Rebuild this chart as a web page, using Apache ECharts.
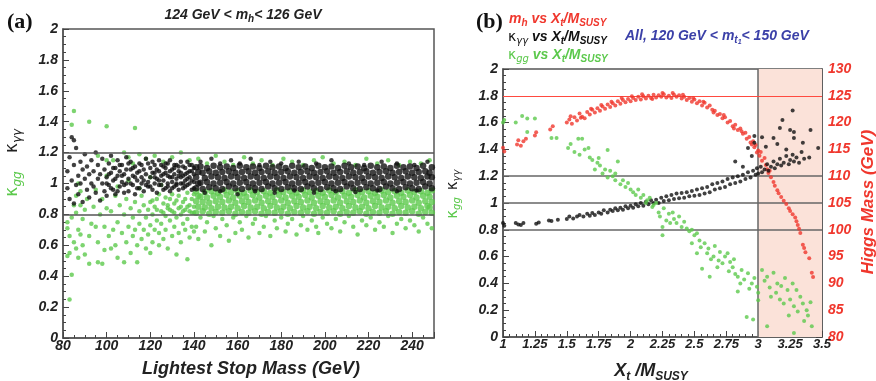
<!DOCTYPE html>
<html><head><meta charset="utf-8">
<script src="https://cdn.jsdelivr.net/npm/echarts@6/dist/echarts.min.js"></script>
<style>html,body{margin:0;padding:0;background:#fff}#c{width:876px;height:381px}</style>
</head><body><div id="c"></div>
<script>
// ---------- Panel (a): kappa vs lightest stop mass ----------
const stopTicks = [80,100,120,140,160,180,200,220,240];
const kappaTicks = [0,0.2,0.4,0.6,0.8,1,1.2,1.4,1.6,1.8,2];
// kappa_gg (green), sparse part
const ggSparseA = [
[82,0.71],[82,0.75],[82,0.53],[83,0.25],[83,0.55],[83,0.66],[84,0.41],[84,0.78],[84,1.38],[85,1.47],[85,0.62],[85,0.86],[86,0.58],[86,0.81],[86,0.92],[87,0.7],[87,1.0],[87,0.52],[88,0.86],[88,0.95],[88,0.67],[89,0.6],[89,0.77],[90,0.54],[90,0.83],[91,0.9],[92,1.4],[92,0.66],[92,0.48],[93,0.74],[94,0.85],[95,0.72],[95,0.96],[96,0.62],[96,0.49],[96,1.18],[97,0.8],[98,0.48],[98,0.9],[99,0.57],[99,0.72],[100,0.84],[100,1.15],[100,1.37],[100,1.05],
[101,0.66],[102,0.82],[102,0.58],[103,0.7],[103,1.15],[104,0.6],[104,0.92],[105,0.75],[105,0.52],[105,0.98],[106,0.86],[107,0.68],[108,0.49],[108,0.8],[108,1.2],[109,0.62],[109,0.9],[110,0.72],[110,1.17],[110,1.02],[111,0.84],[111,0.55],[112,0.66],[112,0.78],[112,1.13],[113,0.7],[113,0.88],[113,1.36],[114,0.49],[114,0.6],[115,0.82],[115,0.74],[115,1.19],[115,0.97],[116,0.92],[116,0.64],[117,0.7],[117,0.86],[118,0.58],[118,0.78],[118,1.16],[119,0.83],[119,0.67],[120,0.55],[120,0.73],[120,0.88],[120,1.04],[121,0.62],[121,0.8],[122,0.7],[122,0.85],[122,1.18],[123,0.76],[123,0.9],[124,0.6],[124,0.68],[125,0.82],[125,0.74],[125,0.99],[126,0.87],[126,0.64],[126,1.14],[127,0.79],[127,0.7],[128,0.84],[128,0.58],[129,0.76],[129,0.9],[130,0.66],[130,0.82],[130,1.17],[131,0.72],[131,0.87],[132,0.54],[132,0.78],[133,0.68],[133,0.84],[134,0.62],[134,0.8],[134,1.2],[135,0.74],[135,0.88],[136,0.7],[136,0.83],[137,0.51],[137,0.77],[138,0.65],[138,0.86],[138,1.15],[139,0.72],[139,0.81],[140,0.69],[140,0.85],
[121,0.89],[123,0.83],[124,0.93],[126,0.81],[127,0.91],[128,0.86],[129,0.83],[130,0.93],[131,0.81],[132,0.89],[133,0.92],[134,0.85],[135,0.82],[136,0.9],[137,0.94],[137,0.85],[138,0.82],[139,0.9],[140,0.93],[140,0.81],
[141,0.72],[142,0.64],[143,0.78],[145,0.69],[146,0.75],[148,0.6],[149,0.79],[150,0.71],[152,0.66],[153,0.77],[155,0.73],[156,0.63],[158,0.78],[159,0.68],[161,0.75],[162,0.7],[164,0.79],[165,0.65],[167,0.74],[168,0.77],[170,0.68],[172,0.72],[173,0.79],[175,0.66],[177,0.76],[178,0.71],[180,0.78],[182,0.69],[183,0.74],[185,0.77],[187,0.67],[189,0.73],[190,0.79],[192,0.7],[194,0.76],[196,0.72],[197,0.68],[199,0.78],[201,0.74],[203,0.71],[205,0.77],[207,0.69],[209,0.75],[211,0.79],[213,0.72],[215,0.67],[217,0.76],[219,0.73],[221,0.78],[223,0.7],[225,0.75],[227,0.72],[229,0.79],[231,0.68],[233,0.74],[235,0.77],[237,0.71],[239,0.76],[241,0.73],[243,0.69],[245,0.78],[247,0.74],[249,0.71],
[142,1.16],[146,1.13],[150,1.18],[154,1.14],[158,1.12],[163,1.17],[167,1.13],[171,1.15],[176,1.12],[181,1.16],[185,1.14],[190,1.12],[195,1.15],[199,1.17],[204,1.13],[209,1.14],[214,1.12],[219,1.16],[224,1.13],[229,1.15],[234,1.12],[239,1.14],[244,1.13],[248,1.15]
];
// kappa_gg (green), dense band
const ggBandA = [
[141,0.81],[142,0.85],[141,0.885],[142,0.92],[141,0.95],
[144,0.82],[145,0.845],[144,0.88],[143,0.915],[145,0.945],
[147,0.805],[148,0.84],[147,0.875],[146,0.91],[148,0.95],
[150,0.815],[151,0.85],[150,0.885],[149,0.92],[151,0.94],
[153,0.81],[154,0.845],[153,0.88],[152,0.915],[154,0.955],
[156,0.82],[157,0.85],[156,0.89],[155,0.925],[157,0.945],
[159,0.805],[160,0.84],[159,0.875],[158,0.91],[160,0.95],
[162,0.815],[163,0.855],[162,0.885],[161,0.92],[163,0.94],
[165,0.81],[166,0.845],[165,0.88],[164,0.915],[166,0.955],
[168,0.82],[169,0.85],[168,0.89],[167,0.925],[169,0.945],
[171,0.805],[172,0.84],[171,0.875],[170,0.91],[172,0.95],
[174,0.815],[175,0.855],[174,0.885],[173,0.92],[175,0.94],
[177,0.81],[178,0.845],[177,0.88],[176,0.915],[178,0.955],
[180,0.82],[181,0.85],[180,0.89],[179,0.925],[181,0.945],
[183,0.805],[184,0.84],[183,0.875],[182,0.91],[184,0.95],
[186,0.815],[187,0.855],[186,0.885],[185,0.92],[187,0.94],
[189,0.81],[190,0.845],[189,0.88],[188,0.915],[190,0.955],
[192,0.82],[193,0.85],[192,0.89],[191,0.925],[193,0.945],
[195,0.805],[196,0.84],[195,0.875],[194,0.91],[196,0.95],
[198,0.815],[199,0.855],[198,0.885],[197,0.92],[199,0.94],
[201,0.81],[202,0.845],[201,0.88],[200,0.915],[202,0.955],
[204,0.82],[205,0.85],[204,0.89],[203,0.925],[205,0.945],
[207,0.805],[208,0.84],[207,0.875],[206,0.91],[208,0.95],
[210,0.815],[211,0.855],[210,0.885],[209,0.92],[211,0.94],
[213,0.81],[214,0.845],[213,0.88],[212,0.915],[214,0.955],
[216,0.82],[217,0.85],[216,0.89],[215,0.925],[217,0.945],
[219,0.805],[220,0.84],[219,0.875],[218,0.91],[220,0.95],
[222,0.815],[223,0.855],[222,0.885],[221,0.92],[223,0.94],
[225,0.81],[226,0.845],[225,0.88],[224,0.915],[226,0.955],
[228,0.82],[229,0.85],[228,0.89],[227,0.925],[229,0.945],
[231,0.805],[232,0.84],[231,0.875],[230,0.91],[232,0.95],
[234,0.815],[235,0.855],[234,0.885],[233,0.92],[235,0.94],
[237,0.81],[238,0.845],[237,0.88],[236,0.915],[238,0.955],
[240,0.82],[241,0.85],[240,0.89],[239,0.925],[241,0.945],
[243,0.805],[244,0.84],[243,0.875],[242,0.91],[244,0.95],
[246,0.815],[247,0.855],[246,0.885],[245,0.92],[247,0.94],
[249,0.81],[248,0.845],[249,0.88],[248,0.915],[249,0.955]
];
// kappa_gamma_gamma (black), sparse part
const aaSparseA = [
[82,0.97],[82,1.08],[83,1.17],[83,0.9],[84,1.3],[84,1.02],[85,1.28],[85,0.87],[85,1.12],[86,1.23],[86,0.99],[87,1.05],[87,0.93],[88,1.14],[88,1.0],[89,0.88],[89,1.09],[90,1.03],[90,1.19],[91,0.96],[91,1.11],[92,1.06],[92,0.91],[93,1.15],[93,1.0],[94,0.98],[94,1.08],[95,1.2],[95,0.94],[96,1.03],[96,1.12],[97,0.89],[97,1.06],[98,1.0],[98,1.16],[99,0.95],[99,1.09],[100,1.04],[100,0.92],[101,1.13],[101,0.99],[102,1.07],[102,1.18],[103,0.96],[103,1.02],[104,1.1],[104,0.93],[105,1.05],[105,1.15],[106,0.98],[106,1.08],[107,1.01],[107,1.12],[108,0.94],[108,1.06],[109,1.17],[109,1.0],[110,1.03],[110,0.95],[111,1.09],[111,1.14],[112,0.99],[112,1.05],[113,1.11],[113,0.93],[114,1.02],[114,1.07],[115,0.97],[115,1.13],[116,1.04],[116,1.0],[117,1.09],[117,0.95],[118,1.06],[118,1.16],[119,1.01],[119,0.98],[120,1.1],[120,1.04],[121,0.96],[121,1.07],[122,1.12],[122,1.0],[123,1.03],[123,0.94],[124,1.08],[124,1.15],[125,0.99],[125,1.05],[126,1.02],[126,1.11],[127,0.97],[127,1.07],[128,1.13],[128,1.0],[129,1.04],[129,0.95],[130,1.09],[130,1.01],[131,1.06],[131,0.98],[132,1.12],[132,1.03],[133,0.96],[133,1.08],[134,1.0],[134,1.14],[135,1.05],[135,0.97],[136,1.1],[136,1.02],[137,0.99],[137,1.07],[138,1.04],[138,1.12],[139,0.96],[139,1.08],[140,1.01],[140,1.1],
[100,1.0],[101,1.06],[102,0.97],[103,1.1],[104,1.03],[105,0.95],[106,1.12],[107,1.05],[108,0.99],[109,1.09],[110,1.13],[111,1.0],[112,1.1],[113,1.04],[114,0.97],[115,1.08],[116,1.12],[117,1.02],[118,0.99],[119,1.13],[120,0.98],[121,1.14],[122,1.04],[123,1.09],[124,0.99],[125,1.12],[126,0.96],[127,1.1],[128,1.05],[129,1.15],[130,0.97],[131,1.12],[132,0.99],[133,1.05],[134,1.07],[135,1.11],[136,0.98],[137,1.14],[138,1.0],[139,1.12],[140,0.97],
[122,1.07],[124,1.02],[126,1.06],[127,1.13],[128,0.98],[129,1.08],[130,1.04],[131,1.1],[132,1.0],[133,1.11],[134,1.04],[135,1.0],[136,1.06],[137,1.03],[138,1.08],[139,1.02],[140,1.06],
[143,1.14],[148,1.16],[152,1.13],[157,1.15],[161,1.13],[166,1.16],[170,1.12],[175,1.14],[180,1.13],[188,1.14],[196,1.13],[203,1.15],[211,1.13],[218,1.12],[226,1.14],[233,1.13],[241,1.12],[247,1.14],
[145,0.94],[152,0.95],[160,0.93],[168,0.95],[177,0.94],[186,0.955],[195,0.94],[205,0.95],[214,0.945],[224,0.955],[233,0.95],[242,0.955]
];
// kappa_gamma_gamma (black), dense band
const aaBandA = [
[141,0.97],[142,1.0],[141,1.04],[142,1.075],[141,1.105],
[144,0.965],[143,1.005],[145,1.035],[144,1.07],[143,1.11],
[147,0.975],[146,1.01],[148,1.045],[147,1.08],[146,1.1],
[150,0.97],[149,1.0],[151,1.04],[150,1.07],[149,1.115],
[153,0.965],[152,1.005],[154,1.035],[153,1.075],[152,1.105],
[156,0.98],[155,1.01],[157,1.045],[156,1.08],[155,1.11],
[159,0.97],[158,1.0],[160,1.04],[159,1.07],[158,1.1],
[162,0.965],[161,1.005],[163,1.035],[162,1.075],[161,1.115],
[165,0.975],[164,1.01],[166,1.045],[165,1.08],[164,1.105],
[168,0.97],[167,1.0],[169,1.04],[168,1.07],[167,1.11],
[171,0.965],[170,1.005],[172,1.035],[171,1.075],[170,1.1],
[174,0.98],[173,1.01],[175,1.045],[174,1.08],[173,1.115],
[177,0.97],[176,1.0],[178,1.04],[177,1.07],[176,1.105],
[180,0.965],[179,1.005],[181,1.035],[180,1.075],[179,1.11],
[183,0.975],[182,1.01],[184,1.045],[183,1.08],[182,1.1],
[186,0.97],[185,1.0],[187,1.04],[186,1.07],[185,1.115],
[189,0.965],[188,1.005],[190,1.035],[189,1.075],[188,1.105],
[192,0.98],[191,1.01],[193,1.045],[192,1.08],[191,1.11],
[195,0.97],[194,1.0],[196,1.04],[195,1.07],[194,1.1],
[198,0.965],[197,1.005],[199,1.035],[198,1.075],[197,1.115],
[201,0.975],[200,1.01],[202,1.045],[201,1.08],[200,1.105],
[204,0.97],[203,1.0],[205,1.04],[204,1.07],[203,1.11],
[207,0.965],[206,1.005],[208,1.035],[207,1.075],[206,1.1],
[210,0.98],[209,1.01],[211,1.045],[210,1.08],[209,1.115],
[213,0.97],[212,1.0],[214,1.04],[213,1.07],[212,1.105],
[216,0.965],[215,1.005],[217,1.035],[216,1.075],[215,1.11],
[219,0.975],[218,1.01],[220,1.045],[219,1.08],[218,1.1],
[222,0.97],[221,1.0],[223,1.04],[222,1.07],[221,1.115],
[225,0.965],[224,1.005],[226,1.035],[225,1.075],[224,1.105],
[228,0.98],[227,1.01],[229,1.045],[228,1.08],[227,1.11],
[231,0.97],[230,1.0],[232,1.04],[231,1.07],[230,1.1],
[234,0.965],[233,1.005],[235,1.035],[234,1.075],[233,1.115],
[237,0.975],[236,1.01],[238,1.045],[237,1.08],[236,1.105],
[240,0.97],[239,1.0],[241,1.04],[240,1.07],[239,1.11],
[243,0.965],[242,1.005],[244,1.035],[243,1.075],[242,1.1],
[246,0.98],[245,1.01],[247,1.045],[246,1.08],[245,1.115],
[249,0.97],[248,1.0],[249,1.04],[248,1.07],[249,1.105]
];
const refLinesA = [0.8, 1.2];

// ---------- Panel (b): vs Xt/MSUSY ----------
const xtTicks = [1,1.25,1.5,1.75,2,2.25,2.5,2.75,3,3.25,3.5];
const massTicks = [80,85,90,95,100,105,110,115,120,125,130];
const mhB = [
[1.0,115.3],[1.01,114.6],[1.11,115.9],[1.12,116.7],[1.14,115.7],[1.16,116.5],[1.18,117.0],[1.25,117.6],[1.26,118.2],[1.37,118.7],[1.39,119.3],
[1.5,120.0],[1.52,120.6],[1.53,121.2],[1.54,119.8],[1.56,121.0],[1.58,120.4],[1.6,121.7],[1.61,120.9],[1.62,121.1],[1.64,120.8],[1.66,122.0],[1.68,121.5],[1.69,122.6],[1.7,122.4],[1.72,121.9],[1.74,122.7],[1.76,122.2],[1.77,123.3],[1.78,123.0],[1.8,122.6],[1.82,123.4],[1.84,122.9],[1.85,123.9],[1.86,123.6],[1.88,123.2],[1.9,124.0],[1.92,123.5],[1.93,124.6],[1.94,124.2],[1.96,123.8],[1.98,124.4],[2.0,124.0],[2.01,124.9],[2.02,124.6],[2.04,124.2],[2.06,124.8],[2.08,124.3],[2.09,125.3],[2.1,124.9],[2.12,124.5],[2.14,125.0],[2.16,124.6],[2.17,124.4],[2.18,125.2],[2.2,124.7],[2.22,125.1],[2.24,124.8],[2.25,125.5],[2.26,125.3],[2.28,124.7],[2.3,125.0],[2.32,124.6],[2.33,125.5],[2.34,125.2],[2.36,124.8],[2.38,125.1],[2.4,124.5],[2.41,125.2],[2.42,124.8],[2.44,124.2],[2.46,124.6],[2.48,123.9],[2.49,124.6],[2.5,124.3],[2.52,123.6],[2.54,124.0],[2.56,123.2],[2.57,123.9],[2.58,123.7],[2.6,122.8],[2.62,123.2],[2.64,122.4],[2.65,121.9],[2.66,122.2],[2.68,121.4],[2.7,121.6],[2.72,120.8],[2.73,121.4],[2.74,121.0],[2.76,120.0],[2.78,120.3],[2.8,119.3],[2.81,118.9],[2.82,119.6],[2.84,118.6],[2.86,118.9],[2.87,118.4],[2.88,117.9],[2.9,118.1],[2.91,117.0],[2.93,117.3],[2.94,116.3],[2.95,115.9],[2.96,116.5],[2.97,115.4],[2.98,115.8],[2.99,114.4],[3.0,114.8],
[3.01,113.8],[3.02,114.5],[3.03,112.9],[3.05,113.4],[3.06,112.1],[3.07,111.3],[3.08,110.6],[3.09,111.0],[3.1,109.8],[3.12,108.9],[3.13,108.2],[3.15,107.4],[3.16,106.8],[3.18,106.1],[3.2,105.4],[3.22,104.8],[3.24,104.0],[3.25,103.5],[3.27,102.9],[3.29,102.3],[3.3,101.6],[3.31,100.9],[3.32,100.2],[3.33,99.4],[3.35,97.2],[3.36,96.6],[3.37,95.8],[3.4,94.7],[3.42,92.0],[3.43,91.2]
];
const aaB = [
[1.0,0.85],[1.01,0.83],[1.1,0.85],[1.12,0.84],[1.14,0.835],[1.16,0.85],[1.26,0.845],[1.28,0.855],[1.36,0.87],[1.38,0.865],[1.43,0.875],
[1.5,0.88],[1.52,0.9],[1.55,0.885],[1.58,0.9],[1.6,0.91],[1.63,0.9],[1.66,0.92],[1.68,0.905],[1.7,0.925],[1.72,0.91],[1.75,0.93],[1.77,0.92],[1.79,0.945],[1.82,0.93],[1.84,0.95],[1.86,0.94],[1.88,0.96],[1.9,0.945],[1.92,0.965],[1.94,0.95],[1.96,0.975],[1.98,0.96],[2.0,0.98],[2.02,0.965],[2.04,0.99],[2.06,0.975],[2.08,1.0],[2.1,0.98],[2.12,1.01],[2.14,0.99],[2.16,1.02],[2.18,1.0],[2.2,1.025],[2.22,1.0],[2.24,1.04],[2.26,1.015],[2.28,1.05],[2.3,1.02],[2.32,1.06],[2.34,1.03],[2.36,1.07],[2.38,1.035],[2.4,1.075],[2.42,1.04],[2.44,1.08],[2.46,1.05],[2.48,1.09],[2.5,1.055],[2.52,1.1],[2.54,1.06],[2.56,1.11],[2.58,1.07],[2.6,1.12],[2.62,1.08],[2.64,1.14],[2.66,1.1],[2.68,1.15],[2.7,1.11],[2.72,1.16],[2.74,1.12],[2.76,1.18],[2.78,1.14],[2.8,1.19],[2.82,1.15],[2.84,1.2],[2.86,1.16],[2.88,1.21],[2.9,1.18],[2.92,1.23],[2.94,1.19],[2.96,1.24],[2.98,1.21],[2.99,1.26],[3.0,1.22],
[3.02,1.27],[3.03,1.23],[3.05,1.25],[3.07,1.29],[3.08,1.24],[3.1,1.27],[3.12,1.31],[3.13,1.26],[3.15,1.29],[3.17,1.33],[3.18,1.28],[3.2,1.3],[3.22,1.35],[3.24,1.29],[3.25,1.32],[3.27,1.36],[3.28,1.31],[3.3,1.34],[3.32,1.3],[3.34,1.38],[3.36,1.33],[3.4,1.34],
[2.82,1.31],[2.88,1.27],[2.92,1.41],[2.95,1.35],[2.97,1.45],[2.97,1.5],[3.03,1.49],[3.06,1.42],[3.12,1.485],[3.15,1.44],[3.17,1.56],[3.19,1.62],[3.22,1.4],[3.25,1.545],[3.27,1.69],[3.28,1.53],[3.28,1.485],[3.35,1.45],[3.41,1.545],[3.47,1.41]
];
const ggB = [
[1.0,1.6],[1.01,1.62],[1.1,1.6],[1.15,1.65],[1.19,1.63],[1.19,1.53],[1.25,1.63],[1.38,1.485],[1.42,1.485],
[1.51,1.41],[1.53,1.44],[1.56,1.38],[1.59,1.48],[1.6,1.36],[1.62,1.48],[1.64,1.4],[1.67,1.41],[1.68,1.34],[1.7,1.32],[1.72,1.25],[1.74,1.3],[1.75,1.335],[1.76,1.28],[1.78,1.22],[1.8,1.25],[1.82,1.395],[1.82,1.19],[1.84,1.24],[1.86,1.2],[1.88,1.22],[1.88,1.17],[1.9,1.31],[1.92,1.14],[1.94,1.17],[1.96,1.12],[1.98,1.15],[2.0,1.1],[2.02,1.08],[2.04,1.06],[2.06,1.1],[2.08,1.04],[2.1,1.06],[2.12,1.0],[2.13,1.02],[2.15,1.04],[2.17,0.97],[2.18,0.985],[2.2,1.0],[2.22,0.93],[2.23,0.9],[2.25,0.82],[2.25,0.76],[2.26,0.96],[2.28,0.87],[2.3,0.92],[2.31,0.85],[2.33,0.93],[2.34,0.88],[2.36,0.85],[2.38,0.9],[2.4,0.82],[2.42,0.86],[2.44,0.81],[2.46,0.79],[2.48,0.8],[2.48,0.7],[2.5,0.76],[2.52,0.775],[2.52,0.625],[2.54,0.72],[2.55,0.67],[2.56,0.51],[2.58,0.7],[2.6,0.625],[2.61,0.66],[2.62,0.45],[2.63,0.58],[2.65,0.6],[2.66,0.68],[2.68,0.52],[2.69,0.57],[2.7,0.635],[2.72,0.55],[2.74,0.6],[2.76,0.625],[2.77,0.49],[2.78,0.56],[2.8,0.52],[2.81,0.58],[2.82,0.47],[2.84,0.45],[2.84,0.34],[2.86,0.4],[2.87,0.5],[2.89,0.43],[2.91,0.15],[2.92,0.475],[2.93,0.36],[2.95,0.4],[2.96,0.13],[2.97,0.44],[2.99,0.375],[3.0,0.275],[3.0,0.33],
[3.03,0.5],[3.05,0.42],[3.07,0.45],[3.07,0.08],[3.09,0.37],[3.1,0.3],[3.12,0.48],[3.14,0.33],[3.15,0.4],[3.17,0.28],[3.18,0.38],[3.2,0.25],[3.21,0.44],[3.23,0.35],[3.24,0.16],[3.25,0.28],[3.27,0.4],[3.28,0.23],[3.28,0.03],[3.3,0.35],[3.31,0.19],[3.33,0.3],[3.35,0.25],[3.36,0.12],[3.38,0.2],[3.39,0.16],[3.41,0.26],[3.42,0.08]
];
const refLinesB = [0.8, 1, 1.2];
const shadeFrom = 3, shadeTo = 3.5;
const mhRef = 125;

// ---------- styling ----------
const F = '"Liberation Sans", Arial, sans-serif';
const GREEN = '#5cc94c', RED = '#f0372d', BLACK = '#111', BLUE = '#3b40a8', AX = '#555';
const lab = (c) => ({fontFamily: F, fontWeight: 'bold', fontStyle: 'italic', fontSize: 14, color: c || '#222'});
const tick = {show: true, inside: true, length: 6, lineStyle: {color: '#444', width: 1}};
const minor = (n) => ({show: true, splitNumber: n, length: 3, lineStyle: {color: '#444', width: 1}});
const axLine = {show: true, lineStyle: {color: AX, width: 1.5}};

function rich(size, color) {
  return {
    n: {fontFamily: F, fontWeight: 'bold', fontStyle: 'italic', fontSize: size, fill: color},
    s: {fontFamily: F, fontWeight: 'bold', fontStyle: 'italic', fontSize: Math.round(size * 0.68), fill: color, padding: [Math.round(size * 0.6), 0, 0, 0]},
    ss: {fontFamily: F, fontWeight: 'bold', fontStyle: 'italic', fontSize: Math.round(size * 0.5), fill: color, padding: [Math.round(size * 0.95), 0, 0, 0]},
    k: {fontFamily: '"DejaVu Sans", sans-serif', fontSize: size, fill: color},
    ks: {fontFamily: '"DejaVu Sans", sans-serif', fontStyle: 'italic', fontSize: Math.round(size * 0.68), fill: color, padding: [Math.round(size * 0.6), 0, 0, 0]}
  };
}
function txt(x, y, text, size, color, align, rot) {
  return {type: 'text', x: x, y: y, rotation: rot || 0, silent: true, z: 100,
    style: {text: text, rich: rich(size, color), align: align || 'left', verticalAlign: 'middle',
      font: 'bold italic ' + size + 'px ' + F, fill: color}};
}

const chart = echarts.init(document.getElementById('c'));
chart.setOption({
  animation: false,
  backgroundColor: '#fff',
  grid: [
    {left: 63, top: 29, width: 371, height: 309, show: true, borderColor: AX, borderWidth: 1.5},
    {left: 503, top: 69, width: 319, height: 268, show: true, borderColor: AX, borderWidth: 1.5}
  ],
  xAxis: [
    {gridIndex: 0, type: 'value', min: stopTicks[0], max: 250, interval: 20, axisLine: axLine, axisTick: tick, minorTick: minor(4),
      splitLine: {show: false}, axisLabel: Object.assign(lab(), {margin: 1, showMaxLabel: false})},
    {gridIndex: 1, type: 'value', min: xtTicks[0], max: xtTicks[xtTicks.length - 1], interval: 0.25, axisLine: axLine, axisTick: tick, minorTick: minor(5),
      splitLine: {show: false}, axisLabel: Object.assign(lab(), {margin: 1, fontSize: 13})}
  ],
  yAxis: [
    {gridIndex: 0, type: 'value', min: kappaTicks[0], max: kappaTicks[kappaTicks.length - 1], interval: 0.2, axisLine: axLine, axisTick: tick, minorTick: minor(4),
      splitLine: {show: false}, axisLabel: Object.assign(lab(), {margin: 5})},
    {gridIndex: 1, type: 'value', min: 0, max: 2, interval: 0.2, axisLine: axLine, axisTick: tick, minorTick: minor(4),
      splitLine: {show: false}, axisLabel: Object.assign(lab(), {margin: 5})},
    {gridIndex: 1, type: 'value', position: 'right', min: massTicks[0], max: massTicks[massTicks.length - 1], interval: 5, axisLine: axLine, axisTick: tick, minorTick: minor(5),
      splitLine: {show: false}, axisLabel: Object.assign(lab(RED), {margin: 6})}
  ],
  series: [
    {type: 'scatter', xAxisIndex: 0, yAxisIndex: 0, data: ggSparseA, symbolSize: 4.5, itemStyle: {color: GREEN}, z: 2},
    {type: 'scatter', xAxisIndex: 0, yAxisIndex: 0, data: ggBandA, symbolSize: 6.5, itemStyle: {color: GREEN}, z: 2},
    {type: 'scatter', xAxisIndex: 0, yAxisIndex: 0, data: aaSparseA, symbolSize: 4.5, itemStyle: {color: BLACK}, z: 3},
    {type: 'scatter', xAxisIndex: 0, yAxisIndex: 0, data: aaBandA, symbolSize: 6.5, itemStyle: {color: BLACK}, z: 3,
      markLine: {silent: true, symbol: 'none', label: {show: false}, lineStyle: {color: AX, width: 1.5, type: 'solid'},
        data: refLinesA.map(v => ({yAxis: v}))}},
    {type: 'scatter', xAxisIndex: 1, yAxisIndex: 1, data: [], z: 1,
      markArea: {silent: true, itemStyle: {color: '#fbe2d9'}, data: [[{xAxis: shadeFrom, yAxis: 0}, {xAxis: shadeTo, yAxis: 2}]]},
      markLine: {silent: true, z: 1.5, symbol: 'none', label: {show: false}, lineStyle: {color: '#666', width: 1.5, type: 'solid'},
        data: refLinesB.map(v => ({yAxis: v})).concat([{xAxis: shadeFrom}])}},
    {type: 'scatter', xAxisIndex: 1, yAxisIndex: 2, data: mhB, symbolSize: 4, itemStyle: {color: RED}, z: 3,
      markLine: {silent: true, z: 1.5, symbol: 'none', label: {show: false}, lineStyle: {color: '#ff4a40', width: 1, type: 'solid'},
        data: [{yAxis: mhRef}]}},
    {type: 'scatter', xAxisIndex: 1, yAxisIndex: 1, data: aaB, symbolSize: 4, itemStyle: {color: BLACK}, z: 3},
    {type: 'scatter', xAxisIndex: 1, yAxisIndex: 1, data: ggB, symbolSize: 4, itemStyle: {color: GREEN}, z: 3}
  ],
  graphic: [
    {type: 'text', x: 7, y: 22, silent: true, style: {text: '(a)', font: 'bold 22px "Liberation Serif", serif', fill: '#111', align: 'left', verticalAlign: 'middle'}},
    {type: 'text', x: 476, y: 22, silent: true, style: {text: '(b)', font: 'bold 22px "Liberation Serif", serif', fill: '#111', align: 'left', verticalAlign: 'middle'}},
    txt(243, 15, '{n|124 GeV < m}{s|h}{n|< 126 GeV}', 14, '#222', 'center'),
    txt(251, 369, '{n|Lightest Stop Mass (GeV)}', 18, '#222', 'center'),
    txt(13, 141, '{k|κ}{ks|γγ}', 17, '#222', 'center', Math.PI / 2),
    txt(13, 184, '{k|κ}{ks|gg}', 17, GREEN, 'center', Math.PI / 2),
    txt(509, 19, '{n|m}{s|h}{n| vs X}{s|t}{n|/M}{s|SUSY}', 14, RED, 'left'),
    txt(508, 37, '{k|κ}{ks|γγ}{n| vs X}{s|t}{n|/M}{s|SUSY}', 14, '#111', 'left'),
    txt(508, 55, '{k|κ}{ks|gg}{n| vs X}{s|t}{n|/M}{s|SUSY}', 14, GREEN, 'left'),
    txt(625, 36, '{n|All, 120 GeV < m}{s|t}{ss|1}{n|< 150 GeV}', 14, BLUE, 'left'),
    txt(453, 180, '{k|κ}{ks|γγ}', 15, '#222', 'center', Math.PI / 2),
    txt(453, 208, '{k|κ}{ks|gg}', 15, GREEN, 'center', Math.PI / 2),
    txt(868, 202, '{n|Higgs Mass (GeV)}', 17, RED, 'center', Math.PI / 2),
    txt(651, 371, '{n|X}{s|t}{n| /M}{s|SUSY}', 18, '#222', 'center')
  ]
});
</script></body></html>
